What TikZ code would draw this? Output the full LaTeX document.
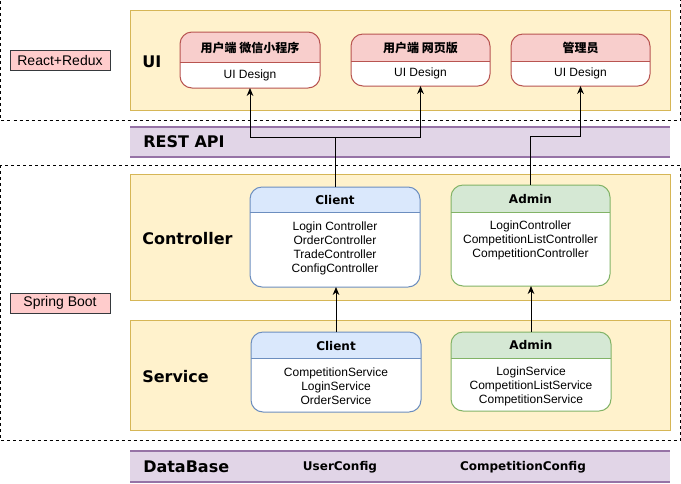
\documentclass[tikz,border=0pt]{standalone}
\usepackage{fontspec}
\setmainfont{Liberation Sans}
\newfontfamily\dejavu{DejaVu Sans}
\newfontfamily\cjk{Noto Sans CJK SC}
\usetikzlibrary{arrows.meta,positioning}
\definecolor{yelF}{HTML}{FFF2CC}
\definecolor{yelD}{HTML}{D6B656}
\definecolor{tagF}{HTML}{FFCCCC}
\definecolor{tagD}{HTML}{36393D}
\definecolor{redF}{HTML}{F8CECC}
\definecolor{redD}{HTML}{B85450}
\definecolor{bluF}{HTML}{DAE8FC}
\definecolor{bluD}{HTML}{6C8EBF}
\definecolor{grnF}{HTML}{D5E8D4}
\definecolor{grnD}{HTML}{82B366}
\definecolor{purF}{HTML}{E1D5E7}
\definecolor{purD}{HTML}{9673A6}
\tikzset{
    layer/.style={draw=yelD, fill=yelF, line width=0.75pt},
    dashbox/.style={draw=black, line width=0.75pt, dash pattern=on 2.25pt off 2.25pt},
    tag/.style={draw=tagD, fill=tagF, line width=0.75pt, minimum width=75pt, minimum height=15pt, inner sep=0pt, font=\fontsize{10.5}{12}\selectfont},
    title/.style={anchor=west, inner sep=0pt, font=\dejavu\bfseries\fontsize{12}{14}\selectfont},
    card/.style n args={3}{draw=#2, fill=white, rounded corners=9pt, line width=0.75pt, inner sep=0pt, outer sep=0pt,
        path picture={\fill[#1, sharp corners] (path picture bounding box.north west) rectangle ([yshift=-#3]path picture bounding box.north east);
        \draw[#2, sharp corners, line width=0.75pt] ([yshift=-#3]path picture bounding box.north west) -- ([yshift=-#3]path picture bounding box.north east);}},
    hdr/.style={inner sep=0pt, font=\dejavu\bfseries\fontsize{9}{11}\selectfont},
    cjkhdr/.style={inner sep=0pt, font=\cjk\bfseries\fontsize{9}{11}\selectfont},
    body/.style={inner sep=0pt, align=center, font=\fontsize{9}{10.5}\selectfont},
    conn/.style={draw, line width=0.75pt, -{Stealth[length=6pt,width=5pt]}}
}
\begin{document}
\begin{tikzpicture}[x=0.75pt,y=-0.75pt]
    \useasboundingbox (0,0) rectangle (681,483);
    \draw[dashbox] (0.5,-5) rectangle (680,120);
    \draw[dashbox] (0.5,165) rectangle (680,440);
    \node[tag] (react) at (60,60) {React+Redux};
    \node[tag] (spring) at (60,303) {Spring Boot};
    % layers
    \draw[layer] (130,10) rectangle (670,110);
    \draw[layer] (130,174) rectangle (670,300);
    \draw[layer] (130,320) rectangle (670,430);
    \fill[purF] (130,127) rectangle (670,157);
    \draw[purD, line width=1.5pt] (130,127) -- (670,127) (130,157) -- (670,157);
    \fill[purF] (130,451) rectangle (670,482);
    \draw[purD, line width=1.5pt] (130,451) -- (670,451) (130,482) -- (670,482);
    \node[title] (tui) at (142,62) {UI};
    \node[title] (trest) at (143,142) {REST API};
    \node[title] (tctl) at (142,239) {Controller};
    \node[title] (tsrv) at (142,377) {Service};
    \node[title] (tdb) at (143,467) {DataBase};
    \node[hdr] (user) at (340,467) {UserConfig};
    \node[hdr] (comp) at (523,467) {CompetitionConfig};
    % UI cards
    \node[card={redF}{redD}{22.5pt}, minimum width=105pt, minimum height=42pt] (ui1) at (250,60) {};
    \node[card={redF}{redD}{20.25pt}, minimum width=104.25pt, minimum height=39pt] (ui2) at (420.5,60) {};
    \node[card={redF}{redD}{20.25pt}, minimum width=104.25pt, minimum height=39pt] (ui3) at (580.5,60) {};
    \node[cjkhdr] at (250,47.5) {用户端 微信小程序};
    \node[cjkhdr] at (420.5,47.5) {用户端 网页版};
    \node[cjkhdr] at (580.5,47.5) {管理员};
    \node[body] at ([yshift=9.75pt]ui1.south) {UI Design};
    \node[body] at ([yshift=9.75pt]ui2.south) {UI Design};
    \node[body] at ([yshift=9.75pt]ui3.south) {UI Design};
    % controller cards
    \node[card={bluF}{bluD}{18.75pt}, minimum width=127.5pt, minimum height=75pt] (cctl) at (335,237) {};
    \node[card={grnF}{grnD}{20.25pt}, minimum width=119.25pt, minimum height=75.75pt] (actl) at (530.5,235.5) {};
    \node[hdr] at ([yshift=-10pt]cctl.north) {Client};
    \node[hdr] at ([yshift=-10.5pt]actl.north) {Admin};
    \node[body, anchor=north] at ([yshift=-26pt]cctl.north) {Login Controller\\OrderController\\TradeController\\ConfigController};
    \node[body, anchor=north] at ([yshift=-26.8pt]actl.north) {LoginController\\CompetitionListController\\CompetitionController};
    % service cards
    \node[card={bluF}{bluD}{19.5pt}, minimum width=127.5pt, minimum height=60pt] (csrv) at (336,372) {};
    \node[card={grnF}{grnD}{19.5pt}, minimum width=120pt, minimum height=59.25pt] (asrv) at (531,371.5) {};
    \node[hdr] at ([yshift=-10.5pt]csrv.north) {Client};
    \node[hdr] at ([yshift=-9.75pt]asrv.north) {Admin};
    \node[body, anchor=north] at ([yshift=-26.8pt]csrv.north) {CompetitionService\\LoginService\\OrderService};
    \node[body, anchor=north] at ([yshift=-26pt]asrv.north) {LoginService\\CompetitionListService\\CompetitionService};
    % connectors
    \coordinate (cj) at (335,137);
    \coordinate (aj) at (530.5,136);
    \draw[conn] (cctl.north) -- (cj) -| (ui1.south);
    \draw[conn] (cj) -| (ui2.south);
    \draw[conn] (actl.north) -- (aj) -| (ui3.south);
    \draw[conn] (csrv.north) -- (csrv.north |- cctl.south);
    \draw[conn] (asrv.north) -- (asrv.north |- actl.south);
\end{tikzpicture}
\end{document}
